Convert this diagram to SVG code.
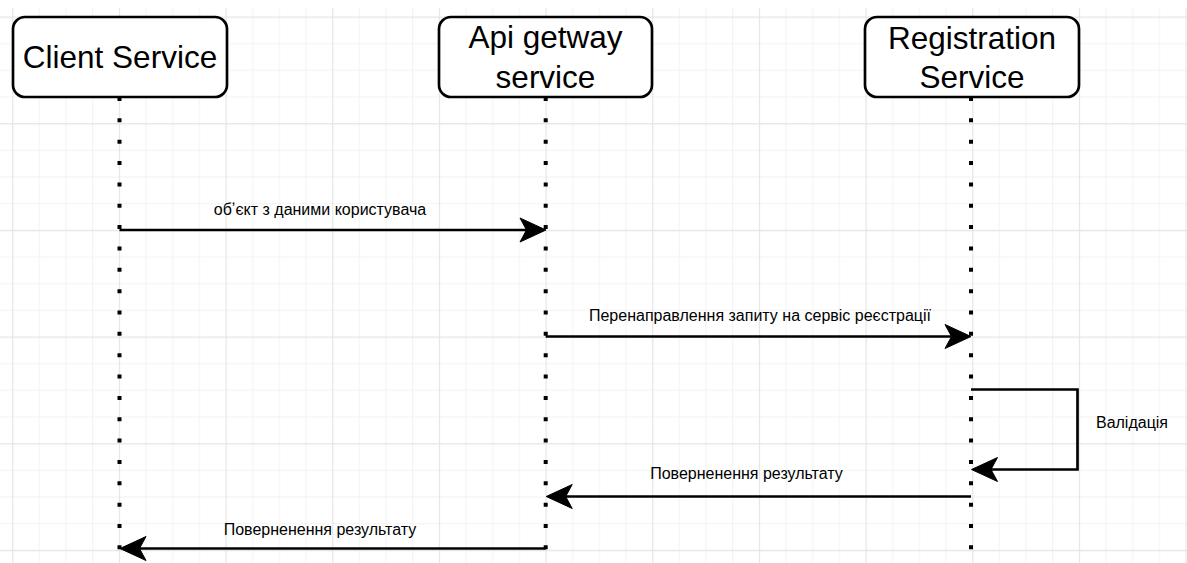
<svg xmlns="http://www.w3.org/2000/svg" width="1187" height="563" viewBox="0 0 1187 563">
  <defs>
    <pattern id="grid" patternUnits="userSpaceOnUse" x="12.2" y="16.5" width="106.667" height="106.667">
      <path d="M27.17,0V106.667M53.83,0V106.667M80.5,0V106.667M0,27.17H106.667M0,53.83H106.667M0,80.5H106.667" stroke="#f2f2f2" stroke-width="1" fill="none"/>
      <path d="M0.5,0V106.667M0,0.5H106.667" stroke="#e4e4e4" stroke-width="1.3" fill="none"/>
    </pattern>
    <marker id="arr" markerUnits="userSpaceOnUse" viewBox="-8 -14 30 28" markerWidth="30" markerHeight="28" refX="0" refY="0" orient="auto">
      <path d="M19.5,0 L-6.5,-12 L0,0 L-6.5,12 Z" fill="#000" stroke="#000" stroke-width="1" stroke-linejoin="miter"/>
    </marker>
    <style>
      .box { fill: #fff; stroke: #000; stroke-width: 2.67; }
      .title { font-family: "Liberation Sans", Arial, sans-serif; font-size: 31.5px; fill: #000; text-anchor: middle; }
      .lbl { font-family: "Liberation Sans", Arial, sans-serif; font-size: 16px; fill: #000; text-anchor: middle; }
      .life { stroke: #000; stroke-width: 4; stroke-dasharray: 4 17.35; fill: none; }
      .msg { stroke: #000; stroke-width: 2.67; fill: none; marker-end: url(#arr); }
    </style>
  </defs>

  <rect x="0" y="0" width="1187" height="563" fill="#fff"/>
  <rect x="0" y="8" width="1187" height="555" fill="url(#grid)"/>

  <g id="lifelines">
    <line class="life" x1="119.5" y1="97" x2="119.5" y2="552"/>
    <line class="life" x1="545.7" y1="97" x2="545.7" y2="552"/>
    <line class="life" x1="971" y1="97" x2="971" y2="552"/>
  </g>

  <g id="client-service">
    <rect class="box" x="13" y="17" width="214" height="80" rx="12" ry="12"/>
    <text class="title" x="120" y="67.5">Client Service</text>
  </g>

  <g id="api-gateway-service">
    <rect class="box" x="439" y="17" width="213" height="80" rx="12" ry="12"/>
    <text class="title" x="545.5" y="48">Api getway</text>
    <text class="title" x="545.5" y="87.5">service</text>
  </g>

  <g id="registration-service">
    <rect class="box" x="865" y="17" width="214" height="80" rx="12" ry="12"/>
    <text class="title" x="972" y="48.5">Registration</text>
    <text class="title" x="972" y="88">Service</text>
  </g>

  <g id="connectors">
    <path class="msg" d="M119.5,230 H526.5"/>
    <path class="msg" d="M545.7,336.5 H951.5"/>
    <path class="msg" d="M971,389.5 H1077.5 V469.5 H991"/>
    <path class="msg" d="M971,496.5 H565.7"/>
    <path class="msg" d="M545.7,548.5 H139.5"/>
  </g>

  <g id="labels">
    <text class="lbl" x="320" y="215">обʼєкт з даними користувача</text>
    <text class="lbl" x="760" y="321">Перенаправлення запиту на сервіс реєстрації</text>
    <text class="lbl" x="1132" y="427.5">Валідація</text>
    <text class="lbl" x="746.5" y="478.5">Поверненення результату</text>
    <text class="lbl" x="320" y="535">Поверненення результату</text>
  </g>
</svg>
